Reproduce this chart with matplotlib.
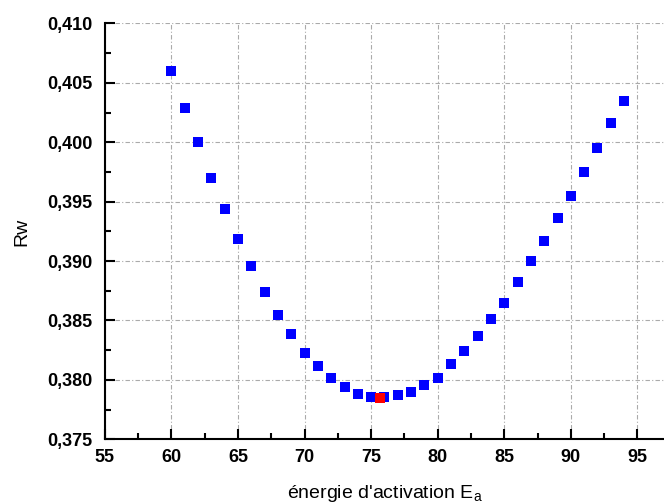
import matplotlib
matplotlib.use("Agg")
import matplotlib.pyplot as plt
from matplotlib.ticker import MultipleLocator, FuncFormatter

plt.rcParams['font.family'] = ['Liberation Sans', 'DejaVu Sans']

# Rw versus activation energy
energie = [60, 61, 62, 63, 64, 65, 66, 67, 68, 69, 70, 71, 72, 73, 74, 75, 76, 77,
           78, 79, 80, 81, 82, 83, 84, 85, 86, 87, 88, 89, 90, 91, 92, 93, 94]
rw = [0.4060, 0.4029, 0.4000, 0.3970, 0.3944, 0.3919, 0.3896, 0.3874, 0.3855, 0.3839,
      0.3823, 0.3812, 0.3802, 0.3794, 0.3788, 0.3786, 0.3786, 0.3787, 0.3790, 0.3796,
      0.3802, 0.3813, 0.3824, 0.3837, 0.3851, 0.3865, 0.3882, 0.3900, 0.3917, 0.3936,
      0.3955, 0.3975, 0.3995, 0.4016, 0.4035]
# minimum found
e_min = [75.7]
rw_min = [0.37848]

fig = plt.figure(figsize=(6.64, 5.04), dpi=100)
ax = fig.add_axes([0.158, 0.1284, 0.842, 0.825])

ax.grid(True, color='#aaaaaa', linestyle=(0, (4, 2, 1, 2)), linewidth=0.8)
ax.set_axisbelow(True)

ax.plot(energie, rw, 's', color='#0000ff', markersize=6.5, markeredgewidth=0)
ax.plot(e_min, rw_min, 's', color='#ff0000', markersize=6.5, markeredgewidth=0)

ax.set_xlim(55, 97)
ax.set_ylim(0.375, 0.410)
ax.xaxis.set_major_locator(MultipleLocator(5))
ax.xaxis.set_minor_locator(MultipleLocator(2.5))
ax.yaxis.set_major_locator(MultipleLocator(0.005))
ax.yaxis.set_minor_locator(MultipleLocator(0.0025))
ax.yaxis.set_major_formatter(FuncFormatter(lambda v, p: f"{v:.3f}".replace('.', ',')))

for s in ['top', 'right']:
    ax.spines[s].set_visible(False)
for s in ['left', 'bottom']:
    ax.spines[s].set_linewidth(1.5)

ax.tick_params(which='both', direction='in', width=1.5, labelsize=13)
ax.tick_params(which='major', length=7)
ax.tick_params(axis='y', which='major', pad=9)
ax.tick_params(axis='x', which='major', pad=7)
ax.tick_params(which='minor', length=4)
for lbl in ax.get_xticklabels() + ax.get_yticklabels():
    lbl.set_fontweight('bold')

ax.set_xlabel("énergie d'activation E$_\\mathregular{a}$", fontsize=14, labelpad=12)
ax.set_ylabel("Rw", fontsize=14, labelpad=12)

fig.savefig("out.png", dpi=100)
